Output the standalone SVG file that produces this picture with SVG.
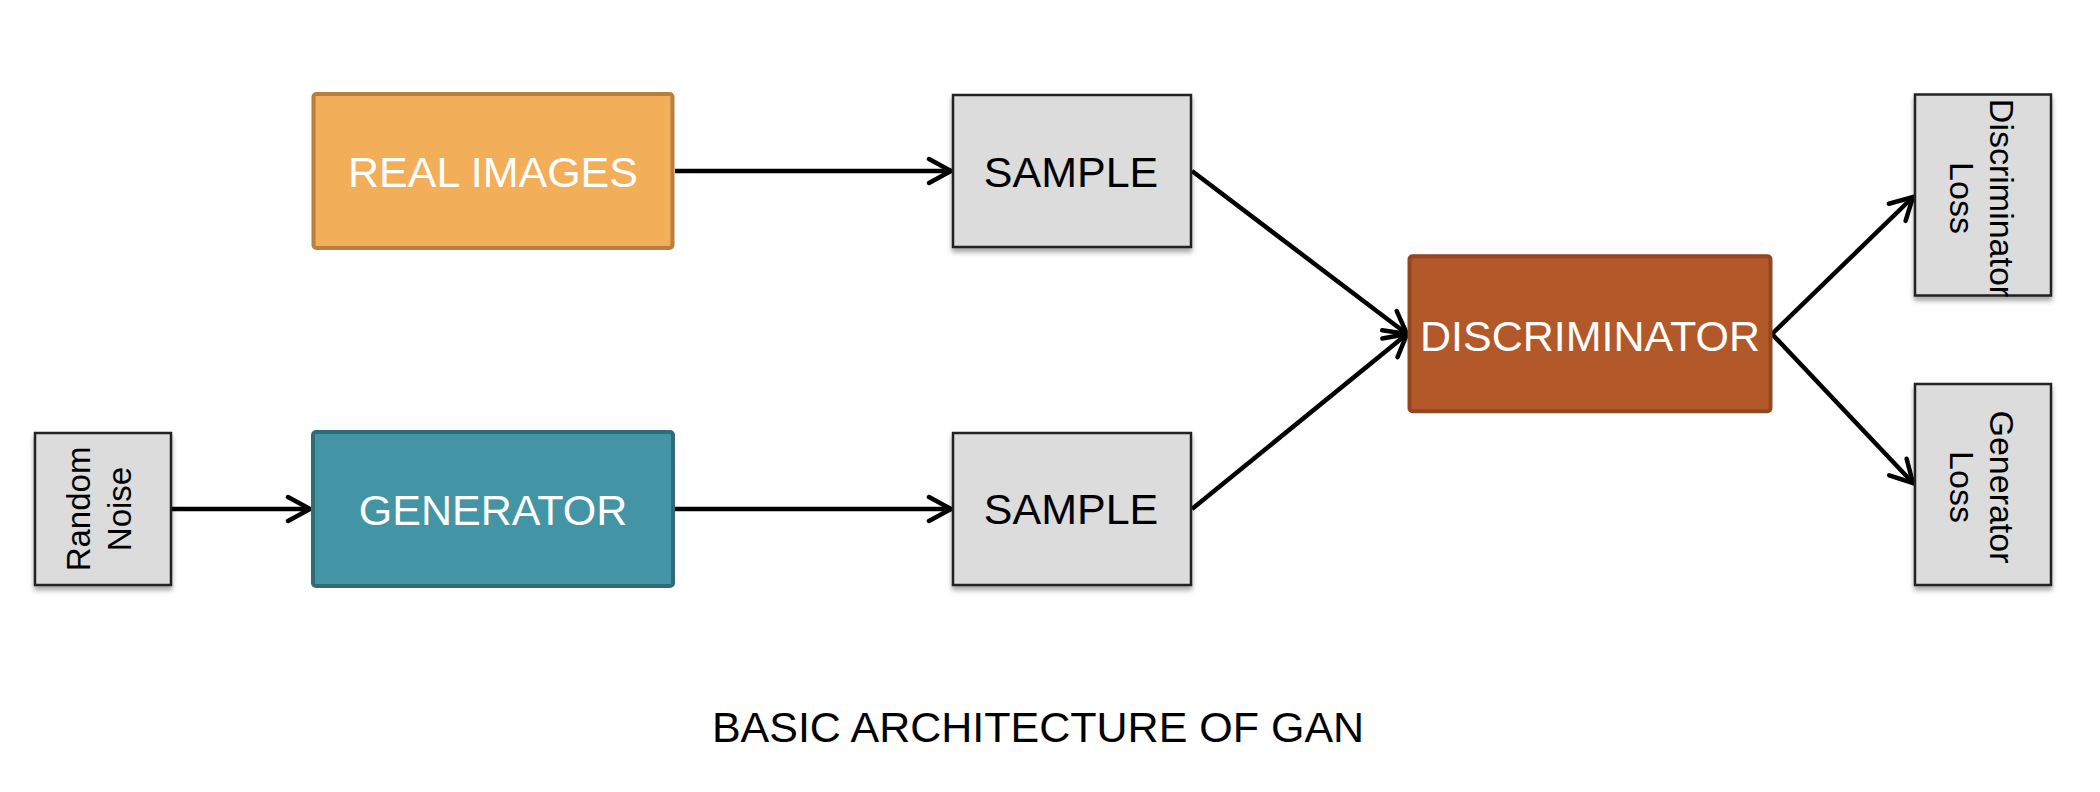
<svg xmlns="http://www.w3.org/2000/svg" width="2100" height="792" viewBox="0 0 2100 792">
  <defs>
    <filter id="shadow" x="-20%" y="-20%" width="140%" height="140%">
      <feDropShadow dx="0" dy="4" stdDeviation="2.5" flood-color="#000" flood-opacity="0.35"/>
    </filter>
    <marker id="arrow" markerUnits="userSpaceOnUse" markerWidth="40" markerHeight="40" viewBox="-30 -20 40 40" refX="0" refY="0" orient="auto">
      <path d="M-22,-12 L0,0 L-22,12" fill="none" stroke="#000" stroke-width="4.5" stroke-linecap="round" stroke-linejoin="miter"/>
    </marker>
    <style>
      .gray { fill: #dcdcdc; stroke: #222; stroke-width: 2.5; filter: url(#shadow); }
      .lbl { font-family: "Liberation Sans", Arial, sans-serif; font-size: 43px; text-anchor: middle; }
      .white { fill: #ffffff; }
      .black { fill: #000000; }
      .small { font-family: "Liberation Sans", Arial, sans-serif; font-size: 33px; text-anchor: middle; fill: #000; }
      .loss { font-size: 34px; }
      .conn { stroke: #000; stroke-width: 4.5; fill: none; marker-end: url(#arrow); }
    </style>
  </defs>
  <rect width="2100" height="792" fill="#ffffff"/>

  <g id="connectors">
    <line class="conn" x1="172" y1="509" x2="310" y2="509"/>
    <line class="conn" x1="675" y1="171" x2="951" y2="171"/>
    <line class="conn" x1="675" y1="509" x2="951" y2="509"/>
    <line class="conn" x1="1192" y1="171" x2="1407" y2="334"/>
    <line class="conn" x1="1192" y1="509" x2="1407" y2="334"/>
    <line class="conn" x1="1772" y1="334" x2="1913" y2="197"/>
    <line class="conn" x1="1772" y1="334" x2="1913" y2="483"/>
  </g>

  <g id="random-noise">
    <rect class="gray" x="35" y="433" width="136" height="152"/>
    <g transform="translate(103,509) rotate(-90)">
      <text class="small" x="0" y="-13">Random</text>
      <text class="small" x="0" y="28">Noise</text>
    </g>
  </g>

  <g id="real-images">
    <rect x="313.5" y="94" width="359" height="154" rx="3" fill="#f3ae59" stroke="#b97f3d" stroke-width="4"/>
    <text class="lbl white" x="493" y="187">REAL IMAGES</text>
  </g>

  <g id="generator">
    <rect x="313" y="432" width="360" height="154" rx="3" fill="#4395a6" stroke="#2f6c78" stroke-width="4"/>
    <text class="lbl white" x="493" y="525">GENERATOR</text>
  </g>

  <g id="sample-real">
    <rect class="gray" x="953" y="95" width="238" height="152"/>
    <text class="lbl black" x="1071" y="187">SAMPLE</text>
  </g>

  <g id="sample-fake">
    <rect class="gray" x="953" y="433" width="238" height="152"/>
    <text class="lbl black" x="1071" y="524">SAMPLE</text>
  </g>

  <g id="discriminator">
    <rect x="1409.5" y="256.3" width="361" height="155" rx="3" fill="#b35828" stroke="#944620" stroke-width="4"/>
    <text class="lbl white" x="1590" y="351">DISCRIMINATOR</text>
  </g>

  <g id="discriminator-loss">
    <rect class="gray" x="1915" y="94.5" width="136" height="201"/>
    <g transform="translate(1983,198) rotate(90)">
      <text class="small loss" x="0" y="-7">Discriminator</text>
      <text class="small loss" x="0" y="33">Loss</text>
    </g>
  </g>

  <g id="generator-loss">
    <rect class="gray" x="1915" y="384" width="136" height="201"/>
    <g transform="translate(1983,487) rotate(90)">
      <text class="small loss" x="0" y="-7">Generator</text>
      <text class="small loss" x="0" y="33">Loss</text>
    </g>
  </g>

  <g id="title">
    <text class="lbl black" x="1038" y="742">BASIC ARCHITECTURE OF GAN</text>
  </g>
</svg>
